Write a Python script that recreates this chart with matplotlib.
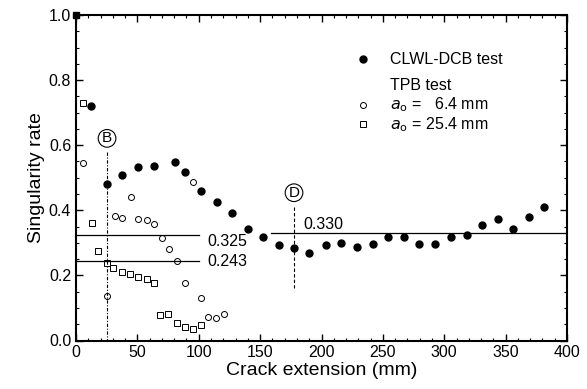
import matplotlib
matplotlib.use("Agg")
import matplotlib.pyplot as plt
from matplotlib.ticker import MultipleLocator

plt.rcParams['font.family'] = ['Liberation Sans', 'DejaVu Sans']

# CLWL-DCB test (filled circles)
dcb_x = [12.2, 25, 37.7, 50.2, 63.3, 80.4, 88.8, 101.8, 114.6, 127.4, 139.9, 152.6,
         165.4, 177.6, 190, 203.4, 215.9, 228.7, 241.7, 254.4, 267.2, 279.7, 292.2,
         305.5, 318.3, 330.5, 343.5, 356.3, 368.8, 381.5]
dcb_y = [0.72, 0.482, 0.509, 0.532, 0.537, 0.549, 0.518, 0.459, 0.426, 0.393, 0.342, 0.317,
         0.293, 0.285, 0.270, 0.293, 0.300, 0.288, 0.295, 0.319, 0.319, 0.295, 0.298,
         0.319, 0.323, 0.354, 0.372, 0.342, 0.378, 0.409]
start_x = [0]
start_y = [1.0]

# TPB test, a0 = 6.4 mm (open circles)
tpb64_x = [5.5, 25, 31.8, 37.7, 44.5, 50.8, 57.6, 63.8, 69.8, 75.8, 82, 88.8, 95,
           101.6, 107.3, 113.8, 120.6]
tpb64_y = [0.544, 0.138, 0.383, 0.375, 0.442, 0.372, 0.370, 0.357, 0.316, 0.280, 0.244,
           0.178, 0.486, 0.131, 0.073, 0.070, 0.080]

# TPB test, a0 = 25.4 mm (open squares)
tpb254_x = [6, 12.8, 18.2, 25, 30.4, 37.2, 44, 50.8, 57.6, 63.8, 68.4, 75.2, 82, 88.8,
            95, 101.8]
tpb254_y = [0.729, 0.36, 0.276, 0.239, 0.222, 0.211, 0.203, 0.196, 0.188, 0.176, 0.078,
            0.080, 0.055, 0.042, 0.035, 0.048]

ref_values = [0.325, 0.243, 0.330]
ref_labels = ['0.325', '0.243', '0.330']

fig = plt.figure(figsize=(5.87, 3.89), dpi=100)
ax = fig.add_axes([76/587, 1 - 340.5/389, (567-76)/587, (340.5-15)/389])

ax.plot(dcb_x, dcb_y, 'o', color='black', ms=5, ls='none', label='CLWL-DCB test')
ax.plot(start_x, start_y, 's', color='black', ms=5, ls='none', clip_on=False)
ax.plot(tpb64_x, tpb64_y, 'o', mfc='white', mec='black', mew=0.7, ms=4.3, ls='none')
ax.plot(tpb254_x, tpb254_y, 's', mfc='white', mec='black', mew=0.7, ms=4.3, ls='none')

# reference lines
ax.plot([0, 100], [ref_values[0]] * 2, color='black', lw=0.9)
ax.plot([0, 100], [ref_values[1]] * 2, color='black', lw=0.9)
ax.plot([159, 400], [ref_values[2]] * 2, color='black', lw=0.9)
ax.text(107, 0.303, ref_labels[0], fontsize=11.5, va='center', ha='left')
ax.text(107, 0.242, ref_labels[1], fontsize=11.5, va='center', ha='left')
ax.text(185, 0.355, ref_labels[2], fontsize=11.5, va='center', ha='left')

# markers B and D
ax.plot([25, 25], [0.58, 0.0], color='black', lw=0.8, ls=(0, (3, 1.5, 1, 1.5)))
ax.plot([177.6, 177.6], [0.41, 0.16], color='black', lw=0.8, ls=(0, (3, 2)))
ax.text(25.3, 0.621, 'B', fontsize=11, ha='center', va='center',
        bbox=dict(boxstyle='circle,pad=0.12', fc='white', ec='black', lw=0.8))
ax.text(177.6, 0.454, 'D', fontsize=11, ha='center', va='center',
        bbox=dict(boxstyle='circle,pad=0.12', fc='white', ec='black', lw=0.8))

# legend drawn manually in axes coords
leg_mx = (363.3 - 76) / 491
leg_tx = (390 - 76) / 491
def ay(py):
    return (340.5 - py) / 325.5
ax.plot([leg_mx], [ay(59.3)], 'o', color='black', ms=5, transform=ax.transAxes)
ax.text(leg_tx, ay(59.3), 'CLWL-DCB test', fontsize=11.5, va='center', transform=ax.transAxes)
ax.text(leg_tx, ay(86), 'TPB test', fontsize=11.5, va='center', transform=ax.transAxes)
ax.plot([leg_mx], [ay(105)], 'o', mfc='white', mec='black', mew=0.7, ms=4.3, transform=ax.transAxes)
ax.text(leg_tx, ay(105), r'$a_{\mathrm{o}}$ =   6.4 mm', fontsize=11.5, va='center',
        transform=ax.transAxes)
ax.plot([leg_mx], [ay(124.3)], 's', mfc='white', mec='black', mew=0.7, ms=4.3, transform=ax.transAxes)
ax.text(leg_tx, ay(124.3), r'$a_{\mathrm{o}}$ = 25.4 mm', fontsize=11.5, va='center',
        transform=ax.transAxes)

ax.set_xlim(0, 400)
ax.set_ylim(0, 1.0)
ax.xaxis.set_major_locator(MultipleLocator(50))
ax.xaxis.set_minor_locator(MultipleLocator(10))
ax.yaxis.set_major_locator(MultipleLocator(0.2))
ax.yaxis.set_minor_locator(MultipleLocator(0.05))
ax.yaxis.set_major_formatter(matplotlib.ticker.FormatStrFormatter('%.1f'))
ax.tick_params(which='both', direction='in', top=True, right=True, labelsize=11.5)
ax.tick_params(which='major', length=5, width=1)
ax.tick_params(which='minor', length=2.5, width=0.8)
for s in ax.spines.values():
    s.set_linewidth(1.5)

ax.set_xlabel('Crack extension (mm)', fontsize=14, labelpad=1)
ax.set_ylabel('Singularity rate', fontsize=14, labelpad=3)

fig.savefig('out.png', dpi=100)
